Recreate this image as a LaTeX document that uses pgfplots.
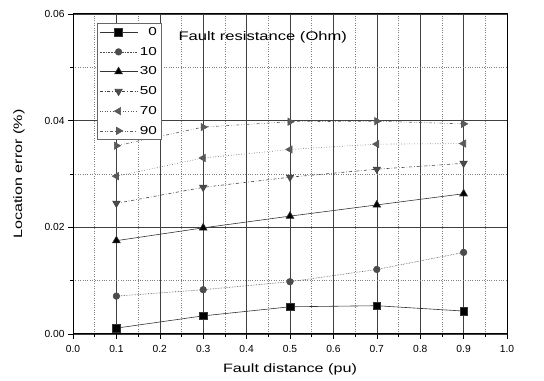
\documentclass[border=0pt]{standalone}
\usepackage{pgfplots}
\pgfplotsset{compat=1.18}
\usepackage{fontspec}
\setmainfont{Liberation Sans}
\newfontfamily\widefont[FakeStretch=1.33]{Liberation Sans}
\begin{document}
\begin{tikzpicture}
\begin{axis}[
  name=ax,
  scale only axis,
  width=434bp, height=320bp,
  xmin=0, xmax=1, ymin=0, ymax=0.06,
  xtick={0,0.1,...,1.0},
  minor x tick num=1,
  ytick={0,0.02,0.04,0.06},
  minor y tick num=1,
  tick pos=left,
  tick align=outside,
  major tick length=5bp,
  minor tick length=3bp,
  xticklabel style={yshift=-2.5bp,/pgf/number format/.cd,fixed,fixed zerofill,precision=1},
  yticklabel style={/pgf/number format/.cd,fixed,fixed zerofill,precision=2},
  scaled y ticks=false,
  /pgf/number format/assume math mode=true,
  tick label style={font=\fontsize{10.3}{12}\selectfont},
  label style={font=\widefont\fontsize{12.2}{14}\selectfont},
  xlabel={Fault distance (pu)},
  ylabel={Location error (\%)},
  xlabel style={yshift=-5bp},
  ylabel style={yshift=13bp},
  grid=both,
  major grid style={solid, black!75, line width=0.5pt},
  minor grid style={dotted, black!50, line width=0.5pt},
  axis line style={black, line width=1pt},
  every tick/.style={black, line width=0.6pt},
  legend style={at={(0.055,0.972)}, anchor=north west, draw=black!60, line width=0.8pt,
    font=\widefont\fontsize{11.6}{13}\selectfont, row sep=6.2bp, inner xsep=2bp, inner ysep=2bp,
    cells={anchor=east}},
  legend cell align=right,
  legend image code/.code={\draw[mark repeat=2,mark phase=2,#1] plot coordinates {(0bp,0bp) (19bp,0bp) (38bp,0bp)};},
]
\addplot[black!80, line width=0.6pt, mark=square*, mark size=3.8bp, mark options={solid, fill=black}]
 coordinates {(0.1,0.0011) (0.3,0.0034) (0.5,0.0051) (0.7,0.0053) (0.9,0.0043)};
\addlegendentry{0}
\addplot[black!70, line width=0.6pt, densely dotted, mark=*, mark size=3.3bp, mark options={solid, fill=black!70}]
 coordinates {(0.1,0.0071) (0.3,0.0083) (0.5,0.0098) (0.7,0.0121) (0.9,0.0153)};
\addlegendentry{10}
\addplot[black!80, line width=0.6pt, mark=triangle*, mark size=4.5bp, mark options={solid, fill=black}]
 coordinates {(0.1,0.0175) (0.3,0.0199) (0.5,0.0221) (0.7,0.0242) (0.9,0.0263)};
\addlegendentry{30}
\addplot[black!75, line width=0.6pt, dash dot, mark=triangle*, mark size=4.2bp, mark options={solid, rotate=180, fill=black!70}]
 coordinates {(0.1,0.0245) (0.3,0.0275) (0.5,0.0294) (0.7,0.0309) (0.9,0.0320)};
\addlegendentry{50}
\addplot[black!65, line width=0.6pt, dotted, mark=triangle*, mark size=4.2bp, mark options={solid, rotate=90, fill=black!65}]
 coordinates {(0.1,0.0296) (0.3,0.0330) (0.5,0.0346) (0.7,0.0356) (0.9,0.0357)};
\addlegendentry{70}
\addplot[black!65, line width=0.6pt, dash dot dot, mark=triangle*, mark size=4.2bp, mark options={solid, rotate=-90, fill=black!65}]
 coordinates {(0.1,0.0353) (0.3,0.0388) (0.5,0.0398) (0.7,0.0399) (0.9,0.0394)};
\addlegendentry{90}
\node[anchor=west, font=\widefont\fontsize{12.5}{14}\selectfont] at (rel axis cs:0.235,0.928) {Fault resistance (Ohm)};
\end{axis}
\path[use as bounding box] ([xshift=-73bp,yshift=-47bp]ax.south west) rectangle ([xshift=37bp,yshift=14bp]ax.north east);
\end{tikzpicture}
\end{document}
